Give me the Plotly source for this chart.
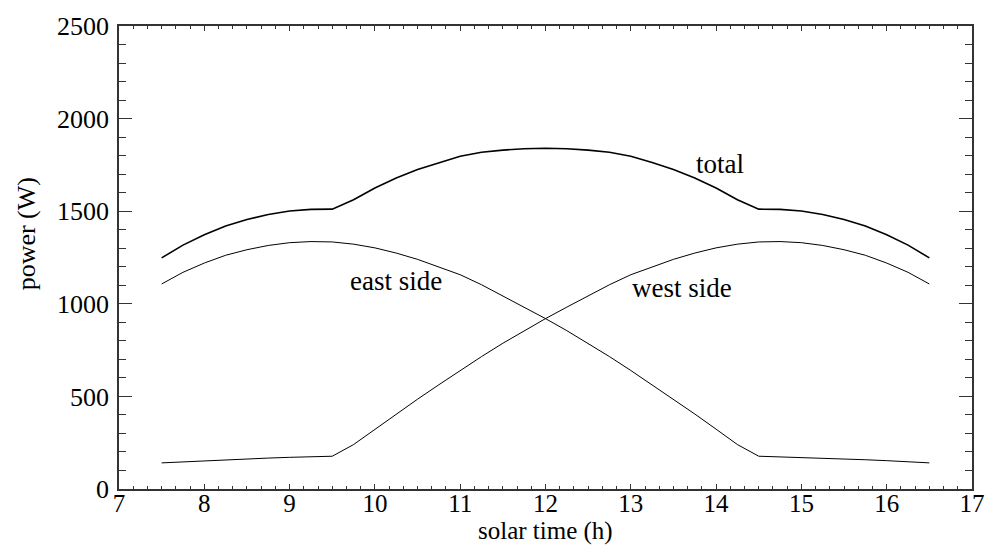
import plotly.graph_objects as go

# solar time (h)
hours = [7.5, 7.75, 8.0, 8.25, 8.5, 8.75, 9.0, 9.25, 9.5, 9.75, 10.0, 10.25,
         10.5, 10.75, 11.0, 11.25, 11.5, 11.75, 12.0, 12.25, 12.5, 12.75, 13.0,
         13.25, 13.5, 13.75, 14.0, 14.25, 14.5, 14.75, 15.0, 15.25, 15.5, 15.75,
         16.0, 16.25, 16.5]

east_side = [1107, 1170, 1220, 1262, 1292, 1315, 1330, 1336, 1334, 1322, 1302, 1274,
             1240, 1200, 1157, 1103, 1043, 982, 920, 855, 787, 715, 640,
             563, 485, 405, 323, 240, 177, 174, 171, 167, 163, 158,
             153, 147, 141]

west_side = [141, 147, 153, 158, 163, 167, 171, 174, 177, 240, 323, 405,
             485, 563, 640, 715, 787, 855, 920, 982, 1043, 1103, 1157,
             1200, 1240, 1274, 1302, 1322, 1334, 1336, 1330, 1315, 1292, 1262,
             1220, 1170, 1107]

total = [1248, 1317, 1373, 1420, 1455, 1482, 1501, 1510, 1511, 1562, 1625, 1679,
         1725, 1763, 1797, 1818, 1830, 1837, 1840, 1837, 1830, 1818, 1797,
         1763, 1725, 1679, 1625, 1562, 1511, 1510, 1501, 1482, 1455, 1420,
         1373, 1317, 1248]

labels = ["total", "east side", "west side"]
label_x = [14.05, 10.25, 13.6]
label_y = [1756, 1121, 1085]

x_ticks = list(range(7, 18))
y_ticks = [0, 500, 1000, 1500, 2000, 2500]

FONT = "Liberation Serif, Times New Roman, serif"

fig = go.Figure()
fig.add_trace(go.Scatter(x=hours, y=total, mode="lines",
                         line=dict(color="black", width=1.6), showlegend=False))
fig.add_trace(go.Scatter(x=hours, y=east_side, mode="lines",
                         line=dict(color="black", width=1), showlegend=False))
fig.add_trace(go.Scatter(x=hours, y=west_side, mode="lines",
                         line=dict(color="black", width=1), showlegend=False))

for t, xx, yy in zip(labels, label_x, label_y):
    fig.add_annotation(x=xx, y=yy, text=t, showarrow=False,
                       font=dict(family=FONT, size=27, color="black"))

# axis titles
fig.add_annotation(xref="paper", yref="paper", x=-0.109, y=0.55, text="power (W)",
                   textangle=-90, showarrow=False, xanchor="center", yanchor="middle",
                   font=dict(family=FONT, size=26, color="black"))
fig.add_annotation(xref="paper", yref="paper", x=0.5, y=-0.1223, text="solar time (h)",
                   showarrow=False, xanchor="center", yanchor="bottom", borderpad=0,
                   font=dict(family=FONT, size=25, color="black"))

axis_common = dict(
    showline=True, linecolor="#333", linewidth=1.5, mirror="allticks",
    ticks="inside", tickcolor="#333", showgrid=False, zeroline=False,
)

fig.update_xaxes(range=[7, 17], tickvals=x_ticks, ticklen=5, tickwidth=1.2,
                 ticklabelstandoff=-9,
                 tickfont=dict(family=FONT, size=25, color="black"),
                 minor=dict(dtick=1/6, tick0=7, ticklen=3, ticks="inside",
                            tickcolor="#333", tickwidth=1),
                 **axis_common)
fig.update_yaxes(range=[0, 2500], tickvals=y_ticks, ticklen=13, tickwidth=1.2,
                 ticklabelstandoff=3,
                 tickfont=dict(family=FONT, size=26, color="black"),
                 minor=dict(dtick=100, tick0=0, ticklen=7, ticks="inside",
                            tickcolor="#333", tickwidth=1),
                 **axis_common)

fig.update_layout(
    width=997, height=547,
    margin=dict(l=119, r=19, t=23, b=58),
    paper_bgcolor="white", plot_bgcolor="white",
)

fig.write_html("out.html", config={"displayModeBar": False},
               post_script="document.body.style.margin='0';document.body.style.overflow='hidden';")
